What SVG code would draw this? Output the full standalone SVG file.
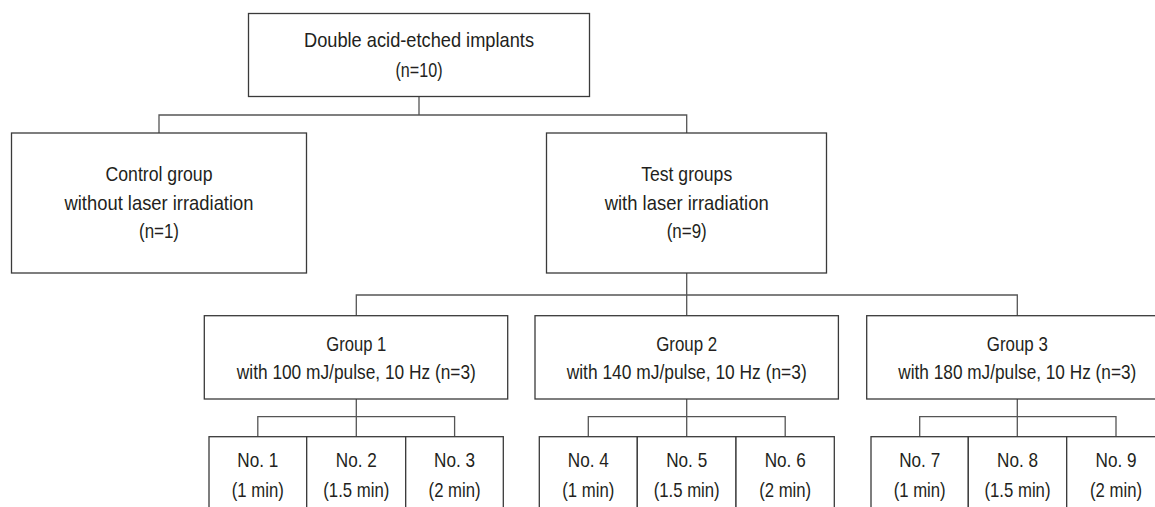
<svg xmlns="http://www.w3.org/2000/svg" width="1155" height="507" viewBox="0 0 1155 507">
<style>
.box{fill:#fff;stroke:#3a3a3a;stroke-width:1.3}
.con{fill:none;stroke:#555;stroke-width:1.3}
text{font-family:"Liberation Sans",Arial,sans-serif;font-size:21px;fill:#231f20;text-anchor:middle}
</style>
<rect width="1155" height="507" fill="#fff"/>
<g id="connectors">
<path class="con" d="M419 97V115M159 133V115H686.7V133"/>
<path class="con" d="M686.7 273V295M356.3 316V295H1017.3V316M686.7 295V316"/>
<path class="con" d="M356.3 399V436.7M257.8 436.7V416.7H454.6V436.7"/>
<path class="con" d="M686.7 399V436.7M588.3 436.7V416.7H785.2V436.7"/>
<path class="con" d="M1017.3 399V436.7M919.7 436.7V416.7H1116V436.7"/>
</g>
<g id="root">
<rect class="box" x="248.5" y="13.5" width="341" height="83"/>
<text x="419" y="47" textLength="230" lengthAdjust="spacingAndGlyphs">Double acid-etched implants</text>
<text x="419" y="77" textLength="47" lengthAdjust="spacingAndGlyphs">(n=10)</text>
</g>
<g id="control">
<rect class="box" x="11.5" y="133" width="295" height="140"/>
<text x="159" y="181" textLength="107" lengthAdjust="spacingAndGlyphs">Control group</text>
<text x="159" y="209.5" textLength="189" lengthAdjust="spacingAndGlyphs">without laser irradiation</text>
<text x="159" y="238" textLength="40" lengthAdjust="spacingAndGlyphs">(n=1)</text>
</g>
<g id="test">
<rect class="box" x="546.5" y="133" width="280" height="140"/>
<text x="686.7" y="181" textLength="91" lengthAdjust="spacingAndGlyphs">Test groups</text>
<text x="686.7" y="210" textLength="164" lengthAdjust="spacingAndGlyphs">with laser irradiation</text>
<text x="686.7" y="238" textLength="40" lengthAdjust="spacingAndGlyphs">(n=9)</text>
</g>
<g id="group1">
<rect class="box" x="204.3" y="315.7" width="303.4" height="83.3"/>
<text x="356.3" y="350.7" textLength="60" lengthAdjust="spacingAndGlyphs">Group 1</text>
<text x="356.3" y="379" textLength="239" lengthAdjust="spacingAndGlyphs">with 100 mJ/pulse, 10 Hz (n=3)</text>
</g>
<g id="group2">
<rect class="box" x="535" y="315.7" width="303.4" height="83.3"/>
<text x="686.7" y="350.7" textLength="61" lengthAdjust="spacingAndGlyphs">Group 2</text>
<text x="686.7" y="379" textLength="240" lengthAdjust="spacingAndGlyphs">with 140 mJ/pulse, 10 Hz (n=3)</text>
</g>
<g id="group3">
<rect class="box" x="866.7" y="315.7" width="303.4" height="83.3"/>
<text x="1017.3" y="350.7" textLength="61" lengthAdjust="spacingAndGlyphs">Group 3</text>
<text x="1017.3" y="379" textLength="238" lengthAdjust="spacingAndGlyphs">with 180 mJ/pulse, 10 Hz (n=3)</text>
</g>
<g id="no1">
<rect class="box" x="209" y="436.7" width="97.7" height="90"/>
<text x="257.8" y="466.7" textLength="41" lengthAdjust="spacingAndGlyphs">No. 1</text>
<text x="257.8" y="496.5" textLength="52" lengthAdjust="spacingAndGlyphs">(1 min)</text>
</g>
<g id="no2">
<rect class="box" x="306.7" y="436.7" width="99" height="90"/>
<text x="356.3" y="466.7" textLength="41" lengthAdjust="spacingAndGlyphs">No. 2</text>
<text x="356.3" y="496.5" textLength="66" lengthAdjust="spacingAndGlyphs">(1.5 min)</text>
</g>
<g id="no3">
<rect class="box" x="405.7" y="436.7" width="97.6" height="90"/>
<text x="454.6" y="466.7" textLength="41" lengthAdjust="spacingAndGlyphs">No. 3</text>
<text x="454.6" y="496.5" textLength="52" lengthAdjust="spacingAndGlyphs">(2 min)</text>
</g>
<g id="no4">
<rect class="box" x="539.3" y="436.7" width="98" height="90"/>
<text x="588.3" y="466.7" textLength="41" lengthAdjust="spacingAndGlyphs">No. 4</text>
<text x="588.3" y="496.5" textLength="52" lengthAdjust="spacingAndGlyphs">(1 min)</text>
</g>
<g id="no5">
<rect class="box" x="637.3" y="436.7" width="98.7" height="90"/>
<text x="686.7" y="466.7" textLength="41" lengthAdjust="spacingAndGlyphs">No. 5</text>
<text x="686.7" y="496.5" textLength="66" lengthAdjust="spacingAndGlyphs">(1.5 min)</text>
</g>
<g id="no6">
<rect class="box" x="736" y="436.7" width="98.3" height="90"/>
<text x="785.2" y="466.7" textLength="41" lengthAdjust="spacingAndGlyphs">No. 6</text>
<text x="785.2" y="496.5" textLength="52" lengthAdjust="spacingAndGlyphs">(2 min)</text>
</g>
<g id="no7">
<rect class="box" x="871" y="436.7" width="97.3" height="90"/>
<text x="919.7" y="466.7" textLength="41" lengthAdjust="spacingAndGlyphs">No. 7</text>
<text x="919.7" y="496.5" textLength="52" lengthAdjust="spacingAndGlyphs">(1 min)</text>
</g>
<g id="no8">
<rect class="box" x="968.3" y="436.7" width="98.4" height="90"/>
<text x="1017.5" y="466.7" textLength="41" lengthAdjust="spacingAndGlyphs">No. 8</text>
<text x="1017.5" y="496.5" textLength="66" lengthAdjust="spacingAndGlyphs">(1.5 min)</text>
</g>
<g id="no9">
<rect class="box" x="1066.7" y="436.7" width="98.3" height="90"/>
<text x="1116" y="466.7" textLength="41" lengthAdjust="spacingAndGlyphs">No. 9</text>
<text x="1116" y="496.5" textLength="52" lengthAdjust="spacingAndGlyphs">(2 min)</text>
</g>
</svg>
